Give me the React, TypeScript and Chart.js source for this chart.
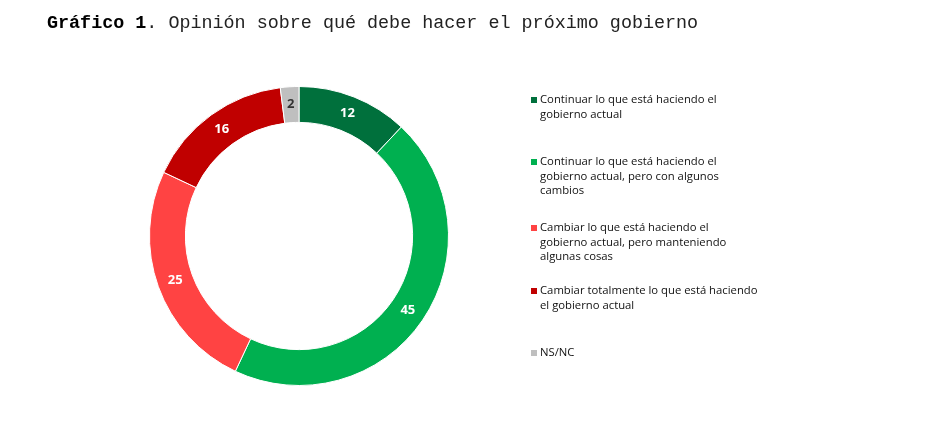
import React, { useEffect, useRef } from "react";
import { Chart, registerables } from "chart.js";

Chart.register(...registerables);

const categories: string[][] = [
  ["Continuar lo que está haciendo el", "gobierno actual"],
  ["Continuar lo que está haciendo el", "gobierno actual, pero con algunos", "cambios"],
  ["Cambiar lo que está haciendo el", "gobierno actual, pero manteniendo", "algunas cosas"],
  ["Cambiar totalmente lo que está haciendo", "el gobierno actual"],
  ["NS/NC"],
];
const values: number[] = [12, 45, 25, 16, 2];
const colors: string[] = ["#00703C", "#00B050", "#FF4343", "#C00000", "#BFBFBF"];
const labelColors: string[] = ["#FFFFFF", "#FFFFFF", "#FFFFFF", "#FFFFFF", "#333333"];
const titleBold = "Gráfico 1";
const titleRest = ". Opinión sobre qué debe hacer el próximo gobierno";

const overlayPlugin = {
  id: "overlay",
  afterDatasetsDraw(chart: any) {
    const ctx = chart.ctx as CanvasRenderingContext2D;
    const meta = chart.getDatasetMeta(0);
    ctx.save();
    // value labels
    ctx.font = "bold 13px 'Open Sans'";
    ctx.textAlign = "center";
    ctx.textBaseline = "middle";
    meta.data.forEach((arc: any, i: number) => {
      const p = arc.getCenterPoint();
      ctx.fillStyle = labelColors[i];
      ctx.fillText(String(values[i]), p.x, p.y);
    });
    // title
    ctx.textAlign = "left";
    ctx.textBaseline = "alphabetic";
    ctx.fillStyle = "#000000";
    ctx.font = "bold 18.4px 'Liberation Mono'";
    ctx.fillText(titleBold, 47, 28);
    const w = ctx.measureText(titleBold).width;
    ctx.font = "18.4px 'Liberation Mono'";
    ctx.fillStyle = "#222222";
    ctx.fillText(titleRest, 47 + w, 28);
    // legend
    const tops = [100, 162, 228, 291, 353];
    ctx.font = "11.3px 'Open Sans'";
    ctx.textBaseline = "middle";
    categories.forEach((lines, i) => {
      ctx.fillStyle = colors[i];
      ctx.fillRect(531, tops[i] - 3, 6, 6);
      ctx.fillStyle = "#111111";
      lines.forEach((line, j) => {
        ctx.fillText(line, 540, tops[i] + j * 14.5);
      });
    });
    ctx.restore();
  },
};

export default function App() {
  const ref = useRef<HTMLCanvasElement | null>(null);
  useEffect(() => {
    if (!ref.current) return;
    const chart = new Chart(ref.current, {
      type: "doughnut",
      data: {
        labels: categories.map((l) => l.join(" ")),
        datasets: [
          {
            data: values,
            backgroundColor: colors,
            borderColor: "#FFFFFF",
            borderWidth: 1,
            hoverOffset: 0,
          },
        ],
      },
      options: {
        responsive: false,
        animation: false,
        cutout: "76%",
        layout: { padding: { left: 149, right: 484, top: 86, bottom: 42 } },
        plugins: {
          legend: { display: false },
          tooltip: { enabled: false },
          title: { display: false },
        },
      },
      plugins: [overlayPlugin],
    });
    return () => chart.destroy();
  }, []);
  return (
    <div style={{ position: "absolute", left: 0, top: 0, width: 933, height: 428, background: "#fff" }}>
      <canvas ref={ref} width={933} height={428} style={{ display: "block" }} />
    </div>
  );
}
